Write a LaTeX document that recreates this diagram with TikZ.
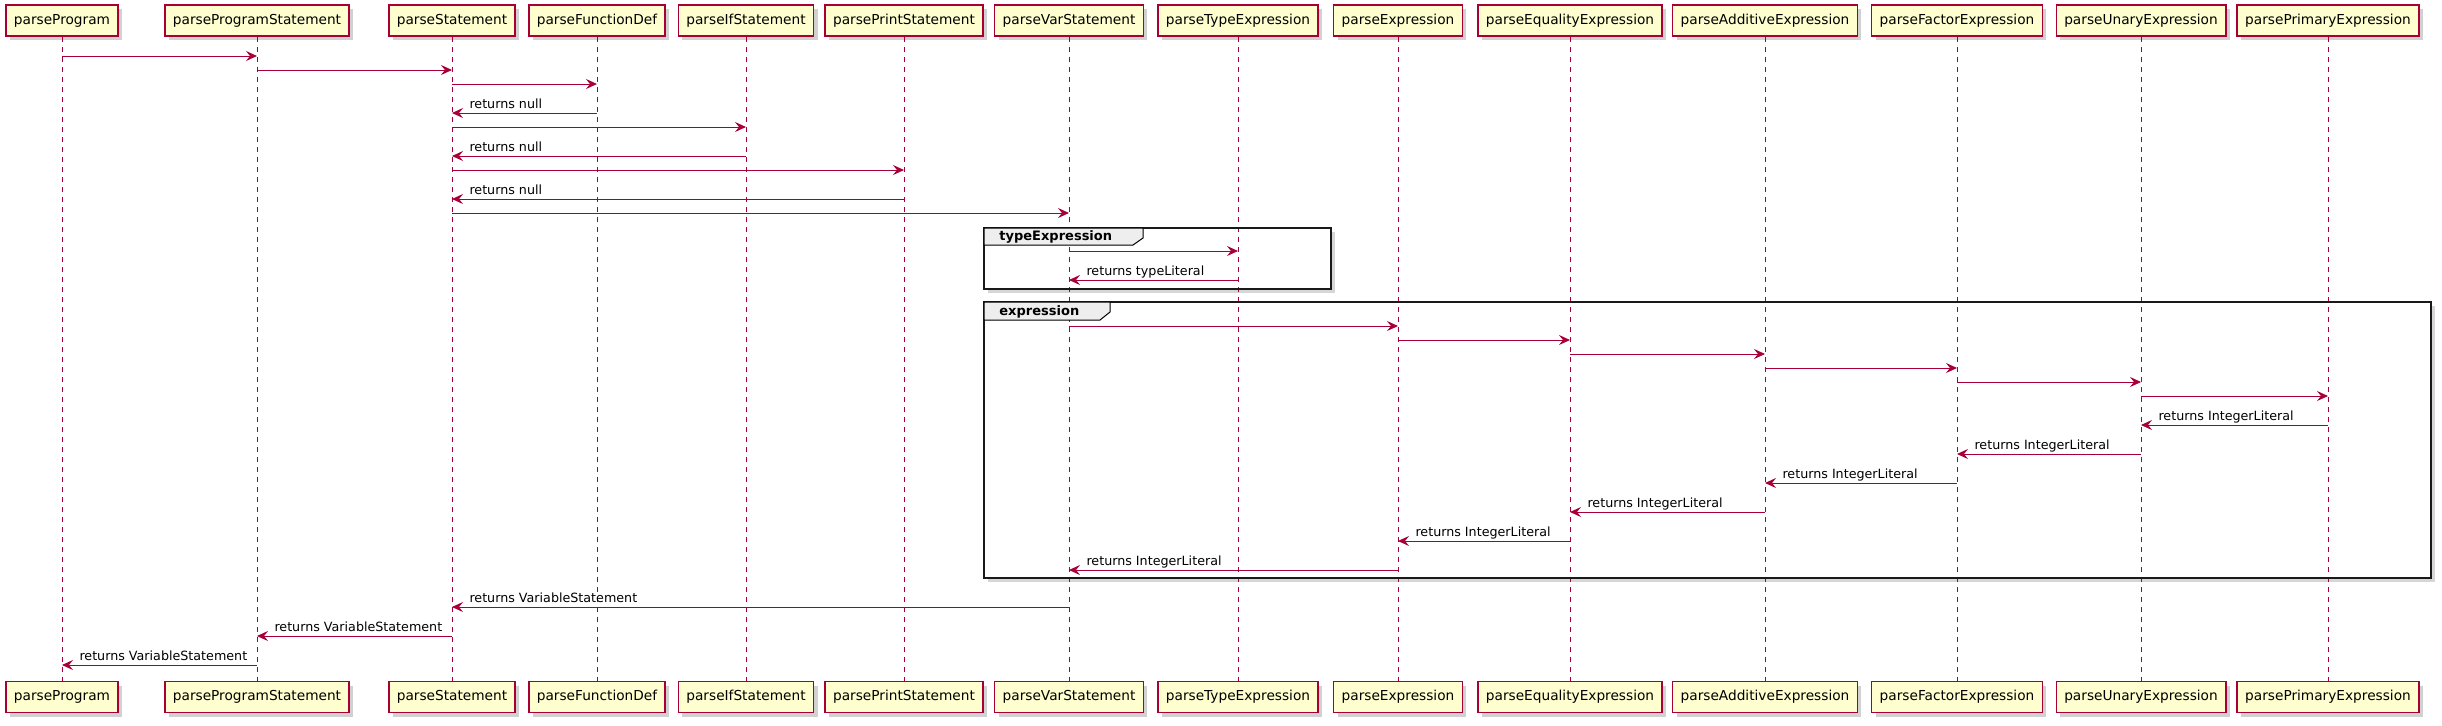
\documentclass[tikz,border=0pt]{standalone}
\usepackage{fontspec}
\setmainfont{DejaVu Sans}
\usetikzlibrary{arrows.meta,shadows}
\definecolor{pu}{HTML}{A80036}
\definecolor{pbox}{HTML}{FEFECE}
\definecolor{tabc}{HTML}{EEEEEE}
\definecolor{shd}{HTML}{D6D6D6}
\newcommand{\callmsg}[3]{\draw[msg] (#1 |- 0,#3) -- (#2 |- 0,#3);}
\newcommand{\retmsg}[4]{\draw[msg] (#1 |- 0,#3) -- (#2 |- 0,#3) node[lbl] {#4};}
\begin{document}
\begin{tikzpicture}[x=0.5pt,y=-0.5pt,
  part/.style={draw=pu, fill=pbox, line width=0.75pt,
    font=\fontsize{6.85}{8}\selectfont, inner xsep=4pt, inner ysep=0pt,
    minimum height=15.5pt,
    drop shadow={shadow xshift=2pt, shadow yshift=-2pt, fill=black, opacity=0.18}},
  life/.style={draw=pu, line width=0.5pt, dash pattern=on 2.5pt off 2.5pt},
  msg/.style={draw=pu, line width=0.5pt, -{Stealth[length=5.5pt,width=5pt,inset=2pt]}},
  lbl/.style={anchor=base west, inner sep=0pt, xshift=8.5pt, yshift=2.5pt,
    font=\fontsize{6.35}{8}\selectfont, text=black},
  flbl/.style={anchor=base west, inner sep=0pt, font=\bfseries\fontsize{6.5}{8}\selectfont},
  frameline/.style={draw=black!90, line width=0.9pt},
  tabshape/.style={draw=black, fill=tabc, line width=0.5pt}
]
\useasboundingbox[fill=white] (0,0) rectangle (2442,725);

% frame backgrounds and shadows
\fill[shd] (988,232) rectangle (1335,293);
\fill[white] (984,228) rectangle (1331,289);
\fill[shd] (988,306) rectangle (2435,582);
\fill[white] (984,302) rectangle (2431,578);

% participants (top)
\node[part] (prog)  at (62,20.5)   {parseProgram};
\node[part] (pstmt) at (257,20.5)  {parseProgramStatement};
\node[part] (stmt)  at (452,20.5)  {parseStatement};
\node[part] (fdef)  at (597,20.5)  {parseFunctionDef};
\node[part] (ifs)   at (746,20.5)  {parseIfStatement};
\node[part] (prt)   at (904,20.5)  {parsePrintStatement};
\node[part] (vars)  at (1069,20.5) {parseVarStatement};
\node[part] (texp)  at (1238,20.5) {parseTypeExpression};
\node[part] (exp)   at (1398,20.5) {parseExpression};
\node[part] (eq)    at (1570,20.5) {parseEqualityExpression};
\node[part] (add)   at (1765,20.5) {parseAdditiveExpression};
\node[part] (fac)   at (1957,20.5) {parseFactorExpression};
\node[part] (un)    at (2141,20.5) {parseUnaryExpression};
\node[part] (prim)  at (2328,20.5) {parsePrimaryExpression};

% participants (bottom)
\node[part] (prog2)  at (62,697)   {parseProgram};
\node[part] (pstmt2) at (257,697)  {parseProgramStatement};
\node[part] (stmt2)  at (452,697)  {parseStatement};
\node[part] (fdef2)  at (597,697)  {parseFunctionDef};
\node[part] (ifs2)   at (746,697)  {parseIfStatement};
\node[part] (prt2)   at (904,697)  {parsePrintStatement};
\node[part] (vars2)  at (1069,697) {parseVarStatement};
\node[part] (texp2)  at (1238,697) {parseTypeExpression};
\node[part] (exp2)   at (1398,697) {parseExpression};
\node[part] (eq2)    at (1570,697) {parseEqualityExpression};
\node[part] (add2)   at (1765,697) {parseAdditiveExpression};
\node[part] (fac2)   at (1957,697) {parseFactorExpression};
\node[part] (un2)    at (2141,697) {parseUnaryExpression};
\node[part] (prim2)  at (2328,697) {parsePrimaryExpression};

% lifelines
\foreach \p in {prog,pstmt,stmt,fdef,ifs,prt,vars,texp,exp,eq,add,fac,un,prim}
  \draw[life] (\p) -- (\p2);

% frames
\draw[frameline] (984,228) rectangle (1331,289);
\draw[tabshape] (984,228) -- (1143,228) -- (1143,238) -- (1133,245) -- (984,245) -- cycle;
\node[flbl] (fl1) at (999,240) {typeExpression};
\draw[frameline] (984,302) rectangle (2431,578);
\draw[tabshape] (984,302) -- (1110,302) -- (1110,312) -- (1100,320) -- (984,320) -- cycle;
\node[flbl] (fl2) at (999,315) {expression};

% messages
\callmsg{prog}{pstmt}{56}
\callmsg{pstmt}{stmt}{70}
\callmsg{stmt}{fdef}{84}
\retmsg{fdef}{stmt}{113}{returns null}
\callmsg{stmt}{ifs}{127}
\retmsg{ifs}{stmt}{156}{returns null}
\callmsg{stmt}{prt}{170}
\retmsg{prt}{stmt}{199}{returns null}
\callmsg{stmt}{vars}{213}
\callmsg{vars}{texp}{251}
\retmsg{texp}{vars}{280}{returns typeLiteral}
\callmsg{vars}{exp}{326}
\callmsg{exp}{eq}{340}
\callmsg{eq}{add}{354}
\callmsg{add}{fac}{368}
\callmsg{fac}{un}{382}
\callmsg{un}{prim}{396}
\retmsg{prim}{un}{425}{returns IntegerLiteral}
\retmsg{un}{fac}{454}{returns IntegerLiteral}
\retmsg{fac}{add}{483}{returns IntegerLiteral}
\retmsg{add}{eq}{512}{returns IntegerLiteral}
\retmsg{eq}{exp}{541}{returns IntegerLiteral}
\retmsg{exp}{vars}{570}{returns IntegerLiteral}
\retmsg{vars}{stmt}{607}{returns VariableStatement}
\retmsg{stmt}{pstmt}{636}{returns VariableStatement}
\retmsg{pstmt}{prog}{665}{returns VariableStatement}
\end{tikzpicture}
\end{document}
